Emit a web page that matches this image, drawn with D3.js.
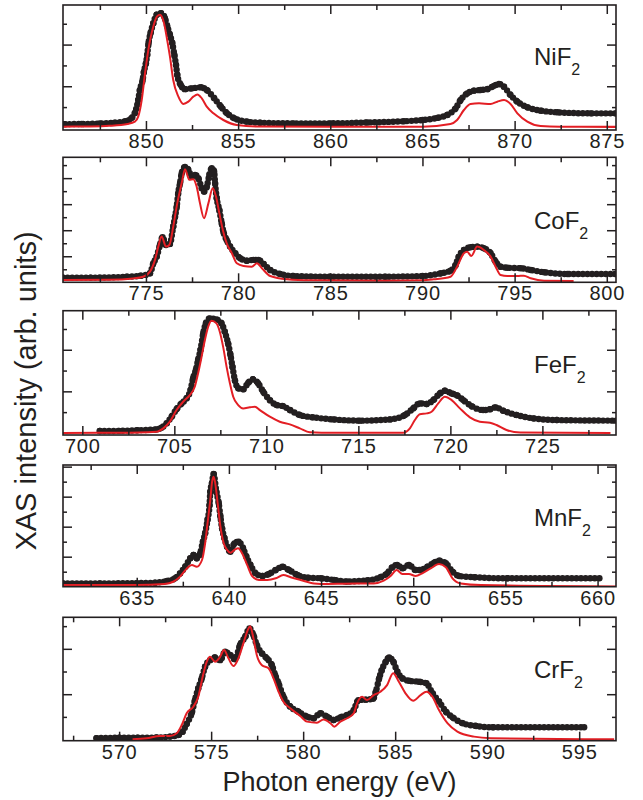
<!DOCTYPE html>
<html>
<head>
<meta charset="utf-8">
<script src="https://cdn.jsdelivr.net/npm/d3@7"></script>
<style>
  body { margin: 0; background: #fff; }
  text { font-family: "Liberation Sans", Arial, Helvetica, sans-serif; fill: #231f20; }
</style>
</head>
<body>
<svg width="643" height="800"></svg>
<script>
// measured spectra: [photon energy (eV), intensity (arb. units)]
const niDots = [[845.6,0.18],[846.5,0.19],[847.5,0.21],[848.3,0.25],[848.9,0.32],[849.2,0.46],[849.4,0.72],[849.58,1.34],[849.67,1.82],[849.82,2.3],[849.89,2.7],[850.0,3.11],[850.07,3.51],[850.14,4.07],[850.25,4.55],[850.4,5.03],[850.58,5.43],[850.82,5.51],[851.03,5.27],[851.16,4.87],[851.3,4.47],[851.43,4.07],[851.54,3.51],[851.63,3.03],[851.7,2.54],[851.89,2.06],[852.1,1.86],[852.5,1.9],[853.0,1.95],[853.3,1.82],[853.71,1.42],[854.07,1.02],[854.4,0.7],[854.8,0.46],[855.5,0.3],[856.2,0.25],[858,0.22],[860,0.22],[862,0.26],[864,0.32],[865,0.38],[865.8,0.48],[866.34,0.62],[866.8,0.94],[867.07,1.34],[867.43,1.66],[867.79,1.79],[868.15,1.82],[868.52,1.86],[868.88,2.02],[869.15,2.11],[869.42,1.98],[869.78,1.58],[870.15,1.26],[870.69,0.99],[871.41,0.83],[872.32,0.75],[874.13,0.7],[875.5,0.7]];
const niSim = [[845.5,0.06],[847,0.07],[848,0.1],[849,0.19],[849.4,0.3],[849.58,0.54],[849.77,1.34],[849.95,2.62],[850.13,3.75],[850.4,4.87],[850.6,5.35],[850.76,5.43],[850.98,5.03],[851.12,4.39],[851.3,3.43],[851.48,2.3],[851.76,1.5],[852.03,1.15],[852.3,1.26],[852.57,1.5],[852.79,1.61],[853.03,1.42],[853.3,1.02],[853.66,0.7],[854.2,0.38],[854.93,0.14],[856,0.07],[860,0.06],[865,0.06],[866.52,0.19],[866.88,0.38],[867.25,0.86],[867.61,1.15],[868.07,1.18],[868.7,1.15],[869.06,1.26],[869.43,1.34],[869.78,1.15],[870.15,0.7],[870.69,0.3],[871.41,0.09],[872.5,0.06],[875.5,0.05]];

const coDots = [[770.5,0.36],[772,0.36],[773.95,0.43],[774.7,0.5],[775.22,0.69],[775.4,1.46],[775.58,1.97],[775.76,2.87],[775.9,3.46],[776.09,2.87],[776.3,2.95],[776.48,4.28],[776.58,5.05],[776.67,5.82],[776.75,6.85],[776.85,7.62],[776.94,8.38],[777.12,8.85],[777.3,8.64],[777.48,8.12],[777.66,8.25],[777.84,8.0],[778.03,7.23],[778.15,6.97],[778.3,7.35],[778.44,8.25],[778.57,8.77],[778.7,8.51],[778.75,7.62],[778.84,6.46],[778.98,5.56],[779.11,4.54],[779.2,3.89],[779.38,3.25],[779.57,2.74],[779.84,2.23],[780.11,1.85],[780.47,1.66],[780.83,1.72],[781.1,1.72],[781.38,1.41],[781.74,0.95],[782.28,0.64],[783.0,0.48],[785,0.43],[788,0.43],[790,0.48],[791.0,0.69],[791.52,0.89],[791.8,1.33],[791.97,1.97],[792.25,2.48],[792.61,2.69],[792.97,2.74],[793.33,2.62],[793.7,2.23],[793.97,1.58],[794.24,1.2],[794.6,1.12],[795.33,1.08],[795.87,0.95],[796.6,0.77],[797.86,0.64],[800.5,0.64]];
const coSim = [[770.5,0.18],[773,0.2],[774.3,0.3],[774.85,0.43],[775.22,0.82],[775.49,1.72],[775.67,2.74],[775.85,3.51],[776.09,2.74],[776.27,2.87],[776.48,4.28],[776.7,6.08],[776.94,7.62],[777.12,8.69],[777.35,7.87],[777.57,7.92],[777.75,7.35],[777.93,6.08],[778.15,4.92],[778.39,6.08],[778.62,7.23],[778.8,6.59],[778.98,5.31],[779.17,4.02],[779.38,3.0],[779.66,2.23],[779.93,1.46],[780.29,1.25],[780.74,1.2],[781.02,1.46],[781.29,1.08],[781.74,0.48],[782.64,0.23],[784,0.15],[788,0.12],[790.0,0.15],[790.61,0.23],[791.52,0.43],[791.88,1.2],[792.25,2.23],[792.43,2.35],[792.65,2.02],[792.97,2.74],[793.33,2.48],[793.7,1.97],[793.97,1.2],[794.24,0.56],[794.6,0.48],[795.15,0.48],[795.5,0.51],[795.87,0.31],[796.6,0.12],[798.2,0.1]];

const feDots = [[700.95,0.09],[702,0.1],[703,0.13],[704.03,0.17],[704.3,0.25],[704.58,0.46],[704.85,0.78],[705.12,1.14],[705.39,1.42],[705.66,1.66],[705.88,2.06],[706.02,2.63],[706.17,3.03],[706.29,3.51],[706.42,3.99],[706.57,4.79],[706.71,5.27],[706.93,5.51],[707.29,5.46],[707.57,5.27],[707.74,4.87],[707.92,4.31],[708.05,3.75],[708.16,3.18],[708.29,2.54],[708.47,2.15],[708.74,2.1],[709.01,2.41],[709.28,2.58],[709.55,2.39],[709.83,1.98],[710.19,1.58],[710.55,1.34],[710.91,1.29],[711.28,1.1],[711.82,0.86],[712.54,0.75],[713.63,0.65],[715.08,0.59],[716.71,0.65],[717.53,0.86],[717.98,1.18],[718.34,1.42],[718.71,1.39],[719.07,1.58],[719.43,1.9],[719.7,2.03],[720.07,1.9],[720.34,1.82],[720.7,1.58],[721.15,1.29],[721.78,1.1],[722.15,1.14],[722.47,1.23],[722.87,1.07],[723.6,0.86],[724.5,0.7],[725.77,0.62],[729,0.59]];
const feSim = [[698.95,0.0],[702,0.01],[704.03,0.06],[704.4,0.22],[704.76,0.54],[705.12,1.1],[705.48,1.5],[705.84,1.82],[706.11,2.22],[706.29,2.86],[706.48,3.66],[706.66,4.47],[706.84,5.11],[707.02,5.4],[707.29,5.27],[707.47,4.87],[707.65,4.15],[707.84,3.18],[708.02,2.39],[708.2,1.74],[708.47,1.34],[708.74,1.18],[709.1,1.23],[709.38,1.26],[709.65,1.1],[710.19,0.78],[710.73,0.54],[711.28,0.41],[711.82,0.22],[712.36,0.03],[713,0.01],[717.43,0.01],[717.8,0.22],[718.07,0.62],[718.34,0.9],[718.71,0.94],[718.98,1.02],[719.34,1.42],[719.7,1.74],[720.07,1.58],[720.52,1.18],[721.06,0.75],[721.6,0.54],[722.15,0.49],[722.51,0.38],[723.05,0.14],[723.8,0.02],[728.7,0.0]];

const mnDots = [[631,0.22],[633,0.22],[635,0.24],[636.0,0.27],[636.63,0.38],[637.08,0.56],[637.35,0.89],[637.63,1.33],[637.9,1.89],[638.08,2.11],[638.26,1.89],[638.44,2.22],[638.59,3.0],[638.71,3.56],[638.84,4.44],[638.95,5.44],[638.99,6.33],[639.08,6.89],[639.17,7.51],[639.32,6.33],[639.45,5.56],[639.54,4.67],[639.63,3.89],[639.76,3.23],[639.9,2.67],[640.08,2.33],[640.3,2.89],[640.53,3.0],[640.77,2.56],[640.95,2.0],[641.17,1.45],[641.45,0.89],[641.81,0.71],[642.17,0.85],[642.54,1.11],[642.9,1.33],[643.26,1.11],[643.72,0.78],[644.26,0.6],[644.98,0.56],[645.71,0.45],[646.4,0.35],[647.5,0.42],[648.22,0.63],[648.59,0.89],[648.86,1.29],[649.13,1.45],[649.41,1.23],[649.77,1.45],[650.13,1.11],[650.4,1.11],[650.77,1.33],[651.13,1.6],[651.4,1.73],[651.77,1.56],[652.13,1.0],[652.49,0.71],[653.31,0.63],[655.12,0.56],[660.1,0.56]];
const mnSim = [[631,0.11],[635,0.11],[636.5,0.18],[636.98,0.33],[637.35,0.67],[637.72,1.22],[637.99,1.45],[638.26,1.33],[638.54,1.78],[638.71,2.89],[638.84,4.22],[638.99,5.78],[639.09,7.0],[639.17,7.33],[639.26,6.89],[639.39,5.56],[639.54,4.0],[639.72,2.89],[639.9,2.45],[640.08,2.27],[640.3,2.45],[640.5,2.56],[640.72,2.22],[640.99,1.45],[641.26,0.71],[641.63,0.45],[642.08,0.45],[642.54,0.56],[642.95,0.78],[643.35,0.63],[643.89,0.45],[644.62,0.22],[645.34,0.18],[646.25,0.2],[647.86,0.22],[648.4,0.4],[648.77,0.71],[649.1,1.11],[649.41,0.85],[649.77,0.85],[650.13,0.71],[650.49,0.89],[650.95,1.22],[651.4,1.51],[651.77,1.29],[652.13,0.56],[652.58,0.22],[653.67,0.11],[661,0.02]];

const crDots = [[568.77,0.06],[570,0.08],[571,0.08],[572.04,0.09],[572.76,0.13],[573.21,0.2],[573.45,0.35],[573.67,0.69],[573.94,1.16],[574.12,1.74],[574.3,2.26],[574.49,2.7],[574.67,3.21],[574.94,3.5],[575.21,3.62],[575.49,3.5],[575.76,3.87],[576.03,3.73],[576.3,3.54],[576.57,4.17],[576.85,4.53],[577.08,4.9],[577.3,4.6],[577.48,4.17],[577.76,3.8],[578.03,3.58],[578.3,3.28],[578.48,2.84],[578.66,2.48],[578.93,1.89],[579.3,1.45],[579.75,1.23],[580.21,1.01],[580.57,0.94],[580.93,1.16],[581.3,1.01],[581.66,0.86],[582.02,0.98],[582.39,1.08],[582.75,1.3],[583.0,1.74],[583.4,1.76],[583.8,1.8],[583.95,2.11],[584.13,2.7],[584.27,3.06],[584.49,3.43],[584.67,3.62],[584.9,3.43],[585.12,2.99],[585.39,2.7],[585.76,2.59],[586.3,2.55],[586.7,2.48],[587.03,2.04],[587.39,1.67],[587.76,1.23],[588.12,0.98],[588.67,0.72],[589.4,0.6],[590.3,0.54],[595.27,0.54]];
const crSim = [[570.73,0.01],[571.49,0.06],[572.22,0.16],[572.76,0.16],[573.13,0.28],[573.4,0.64],[573.67,1.16],[574.03,1.45],[574.3,1.89],[574.54,2.77],[574.76,3.43],[574.94,3.65],[575.21,3.43],[575.49,3.65],[575.7,3.95],[575.94,3.58],[576.21,3.24],[576.48,3.58],[576.75,4.24],[577.03,4.9],[577.12,5.0],[577.3,4.46],[577.48,3.73],[577.76,3.28],[578.12,3.14],[578.39,2.7],[578.66,2.11],[578.93,1.67],[579.3,1.38],[579.84,1.04],[580.21,0.79],[580.75,0.74],[581.11,0.89],[581.48,0.72],[581.69,0.57],[582.02,0.79],[582.39,0.94],[582.75,1.16],[582.93,1.6],[583.2,1.89],[583.47,1.74],[583.83,1.96],[584.2,2.11],[584.56,2.4],[584.89,2.92],[585.2,2.55],[585.56,2.04],[585.98,1.71],[586.38,1.96],[586.7,2.11],[587.02,1.89],[587.38,1.3],[587.84,0.72],[588.38,0.35],[589.28,0.13],[590.2,0.06],[596.9,0.01]];

// tick labels
const niTicks = [850, 855, 860, 865, 870, 875];
const coTicks = [775, 780, 785, 790, 795, 800];
const feTicks = [700, 705, 710, 715, 720, 725];
const mnTicks = [635, 640, 645, 650, 655, 660];
const crTicks = [570, 575, 580, 585, 590, 595];
const yTicks6 = [1, 2, 3, 4, 5];
const yTicks10 = [1, 2, 3, 4, 5, 6, 7, 8, 9];
const yTicks8 = [1, 2, 3, 4, 5, 6, 7, 8];
const compounds = ["NiF", "CoF", "FeF", "MnF", "CrF"];

const svg = d3.select("svg");
const left = 63, right = 616;
const red = "#e31e24", ink = "#231f20";

const panels = [
  { dots: niDots, sim: niSim, xd: [845.5, 875.5], yd: [-0.1, 5.9], xt: niTicks, yt: yTicks6, top: 5, bottom: 130, ly: 60 },
  { dots: coDots, sim: coSim, xd: [770.5, 800.5], yd: [0, 9.6], xt: coTicks, yt: yTicks10, top: 157.3, bottom: 282.3, ly: 72 },
  { dots: feDots, sim: feSim, xd: [698.95, 729], yd: [-0.1, 5.88], xt: feTicks, yt: yTicks6, top: 310.7, bottom: 435, ly: 62 },
  { dots: mnDots, sim: mnSim, xd: [631, 661], yd: [0, 8.11], xt: mnTicks, yt: yTicks8, top: 465, bottom: 586.7, ly: 61 },
  { dots: crDots, sim: crSim, xd: [566.95, 597], yd: [-0.05, 5.39], xt: crTicks, yt: yTicks6, top: 617.3, bottom: 740.7, ly: 61 }
];

panels.forEach((p, i) => {
  const w = right - left, h = p.bottom - p.top;
  const x = d3.scaleLinear().domain(p.xd).range([0, w]);
  const y = d3.scaleLinear().domain(p.yd).range([h, 0]);
  const g = svg.append("g").attr("transform", `translate(${left},${p.top})`);

  g.append("clipPath").attr("id", "clip" + i)
    .append("rect").attr("width", w).attr("height", h);
  const plot = g.append("g").attr("clip-path", `url(#clip${i})`);

  const line = d3.line().x(d => x(d[0])).y(d => y(d[1])).curve(d3.curveMonotoneX);

  // experiment: dense black dots
  plot.append("path")
    .datum(p.dots)
    .attr("d", line)
    .attr("fill", "none")
    .attr("stroke", ink)
    .attr("stroke-width", 6.4)
    .attr("stroke-linecap", "round")
    .attr("stroke-dasharray", "0 4.6");
  plot.selectAll("circle.pt")
    .data(p.dots)
    .enter()
    .append("circle")
    .attr("class", "pt")
    .attr("cx", d => x(d[0]))
    .attr("cy", d => y(d[1]))
    .attr("r", 3.2)
    .attr("fill", ink);

  // simulation: red line
  plot.append("path")
    .datum(p.sim)
    .attr("d", line)
    .attr("fill", "none")
    .attr("stroke", red)
    .attr("stroke-width", 2);

  // ticks
  const minor = p.xt.flatMap(t => [t - 2.5, t + 2.5])
    .filter((t, k, a) => a.indexOf(t) === k && !p.xt.includes(t) && t > p.xd[0] && t < p.xd[1]);
  const yMinor = p.yt.filter(t => t % 2 === 1);
  const yMajor = p.yt.filter(t => t % 2 === 0);

  const axes = [
    g.append("g").attr("transform", `translate(0,${h})`)
      .call(d3.axisBottom(x).tickValues(p.xt).tickSize(-9).tickSizeOuter(0).tickPadding(4)),
    g.append("g").attr("transform", `translate(0,${h})`)
      .call(d3.axisBottom(x).tickValues(minor).tickSize(-5).tickSizeOuter(0).tickFormat("")),
    g.append("g").call(d3.axisTop(x).tickValues(p.xt).tickSize(-9).tickSizeOuter(0).tickFormat("")),
    g.append("g").call(d3.axisTop(x).tickValues(minor).tickSize(-5).tickSizeOuter(0).tickFormat("")),
    g.append("g").call(d3.axisLeft(y).tickValues(yMajor).tickSize(-9).tickSizeOuter(0).tickFormat("")),
    g.append("g").call(d3.axisLeft(y).tickValues(yMinor).tickSize(-4).tickSizeOuter(0).tickFormat("")),
    g.append("g").attr("transform", `translate(${w},0)`)
      .call(d3.axisRight(y).tickValues(yMajor).tickSize(-9).tickSizeOuter(0).tickFormat("")),
    g.append("g").attr("transform", `translate(${w},0)`)
      .call(d3.axisRight(y).tickValues(yMinor).tickSize(-4).tickSizeOuter(0).tickFormat(""))
  ];
  axes.forEach(a => {
    a.select(".domain").remove();
    a.selectAll(".tick line").attr("stroke", ink).attr("stroke-width", 1.5);
  });
  axes[0].selectAll("text")
    .style("font-size", "20px")
    .style("letter-spacing", "0.8px")
    .attr("font-family", null)
    .attr("fill", ink);

  g.append("rect")
    .attr("width", w).attr("height", h)
    .attr("fill", "none").attr("stroke", ink).attr("stroke-width", 1.6);

  const lab = g.append("text").attr("x", 471).attr("y", p.ly).style("font-size", "24px");
  lab.append("tspan").text(compounds[i]);
  lab.append("tspan").attr("dy", 10).style("font-size", "16px").text("2");
});

svg.append("text")
  .attr("x", (left + right) / 2)
  .attr("y", 791)
  .attr("text-anchor", "middle")
  .style("font-size", "27px")
  .text("Photon energy (eV)");

svg.append("text")
  .attr("transform", "rotate(-90)")
  .attr("x", -391)
  .attr("y", 36)
  .attr("text-anchor", "middle")
  .style("font-size", "29px")
  .text("XAS intensity (arb. units)");
</script>
</body>
</html>
